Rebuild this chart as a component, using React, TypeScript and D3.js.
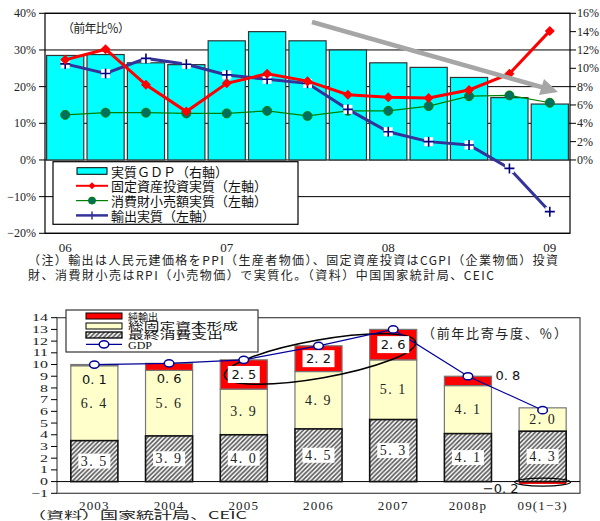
import React from 'react';
import * as d3 from 'd3';

// ---------- Top chart data ----------
const quarters = ["06Q1","06Q2","06Q3","06Q4","07Q1","07Q2","07Q3","07Q4","08Q1","08Q2","08Q3","08Q4","09Q1"];
const quarterTickLabels = ["06","07","08","09"];
const gdpReal = [11.4, 11.5, 10.6, 10.4, 13.0, 14.0, 13.0, 12.0, 10.6, 10.1, 9.0, 6.8, 6.1];
const fixedInvestment = [27.3, 30.2, 20.5, 13.2, 20.9, 23.5, 21.5, 17.8, 17.1, 16.9, 19.1, 23.5, 35.2];
const retailSales = [12.3, 12.9, 12.9, 12.7, 12.7, 13.4, 12.0, 13.4, 13.4, 14.7, 17.4, 17.6, 15.6];
const exportsReal = [26.2, 23.6, 27.7, 26.1, 23.2, 22.0, 20.9, 13.8, 7.7, 5.0, 4.1, -2.3, -14.1];
const leftTicks = [40, 30, 20, 10, 0, -10, -20];
const rightTicks = [16, 14, 12, 10, 8, 6, 4, 2, 0];
const topLegend = ["実質ＧＤＰ（右軸）", "固定資産投資実質（左軸）", "消費財小売額実質（左軸）", "輸出実質（左軸）"];
const topUnit = "（前年比％）";
const noteLines = [
  "（注）輸出は人民元建価格をPPI（生産者物価）、固定資産投資はCGPI（企業物価）投資",
  "財、消費財小売はRPI（小売物価）で実質化。（資料）中国国家統計局、CEIC",
];

// ---------- Bottom chart data ----------
const years = ["2003", "2004", "2005", "2006", "2007", "2008p", "09(1−3)"];
const consumption = [3.5, 3.9, 4.0, 4.5, 5.3, 4.1, 4.3];
const investment = [6.4, 5.6, 3.9, 4.9, 5.1, 4.1, 2.0];
const netExports = [0.1, 0.6, 2.5, 2.2, 2.6, 0.8, -0.2];
const gdpGrowth = [10.0, 10.1, 10.4, 11.6, 13.0, 9.0, 6.1];
const bottomTicks = [14, 13, 12, 11, 10, 9, 8, 7, 6, 5, 4, 3, 2, 1, 0, -1];
const bottomLegend = ["純輸出", "総固定資本形成", "最終消費支出", "GDP"];
const bottomUnit = "（前年比寄与度、％）";
const bottomSource = "（資料）国家統計局、CEIC";

const JP = '"Noto Sans CJK JP", sans-serif';
const SERIF = '"Liberation Serif", serif';
const SANS = '"DejaVu Sans", sans-serif';

const fmt = (v: number) => {
  const s = Math.abs(v).toFixed(1).replace('.', '. ');
  return (v < 0 ? '−' : '') + s;
};

function TopChart() {
  const x = d3.scaleBand<string>().domain(quarters).range([45, 570]).paddingInner(0.08).paddingOuter(0.04);
  const yL = d3.scaleLinear().domain([-20, 40]).range([233.3, 13.3]);
  const yR = d3.scaleLinear().domain([0, 16]).range([yL(0), yL(40)]);
  const cx = (q: string) => (x(q) as number) + x.bandwidth() / 2;
  const line = d3.line<number>().x((_, i) => cx(quarters[i])).y((d) => yL(d));
  const [x0, x1] = x.range();
  const tickQuarters = quarters.filter((q) => q.endsWith('Q1'));

  const diamond = (px: number, py: number, r = 5) => `M${px},${py - r}L${px + r},${py}L${px},${py + r}L${px - r},${py}Z`;
  const plus = (px: number, py: number, k: number) => (
    <g key={k}>
      <rect x={px - 4.5} y={py - 4.5} width={9} height={9} fill="#fff" />
      <path d={`M${px - 5},${py}H${px + 5}M${px},${py - 5}V${py + 5}`} stroke="#000080" strokeWidth={1.6} />
    </g>
  );

  return (
    <g>
      {leftTicks.map((t) => (
        <line key={t} x1={x0} x2={x1} y1={yL(t)} y2={yL(t)} stroke="#000" strokeWidth={1} />
      ))}
      {quarters.map((q, i) => (
        <rect key={q} x={x(q)} y={yR(gdpReal[i])} width={x.bandwidth()} height={yR(0) - yR(gdpReal[i])}
          fill="#00ffff" stroke="#333" strokeWidth={1.2} />
      ))}
      <rect x={x0} y={yL(40)} width={x1 - x0} height={yL(-20) - yL(40)} fill="none" stroke="#000" strokeWidth={1.2} />
      {leftTicks.map((t) => (
        <g key={t}>
          <line x1={x0 - 6} x2={x0} y1={yL(t)} y2={yL(t)} stroke="#000" />
          <text x={x0 - 9} y={yL(t)} textAnchor="end" dominantBaseline="central" fontFamily={SERIF} fontSize={12} fill="#222">
            {(t < 0 ? '−' + Math.abs(t) : t) + '%'}
          </text>
        </g>
      ))}
      {rightTicks.map((t) => (
        <g key={t}>
          <line x1={x1} x2={x1 + 6} y1={yR(t)} y2={yR(t)} stroke="#000" />
          <text x={x1 + 7} y={yR(t)} dominantBaseline="central" fontFamily={SERIF} fontSize={12} fill="#222">
            {t + '%'}
          </text>
        </g>
      ))}
      {tickQuarters.map((q, i) => (
        <text key={q} x={cx(q)} y={247} textAnchor="middle" dominantBaseline="central" fontFamily={SERIF} fontSize={13} fill="#222">
          {quarterTickLabels[i]}
        </text>
      ))}
      <path d={line(retailSales) || ''} fill="none" stroke="#008000" strokeWidth={1.2} />
      {retailSales.map((v, i) => (
        <circle key={i} cx={cx(quarters[i])} cy={yL(v)} r={4.5} fill="#006f5f" stroke="#008000" strokeWidth={1} />
      ))}
      <path d={line(exportsReal) || ''} fill="none" stroke="#333399" strokeWidth={3} />
      {exportsReal.map((v, i) => plus(cx(quarters[i]), yL(v), i))}
      <path d={line(fixedInvestment) || ''} fill="none" stroke="#ff0000" strokeWidth={3} />
      {fixedInvestment.map((v, i) => (
        <path key={i} d={diamond(cx(quarters[i]), yL(v))} fill="#ff0000" />
      ))}
      <line x1={312} y1={22} x2={543} y2={87.5} stroke="#a6a6a6" strokeWidth={4.5} />
      <path d="M558,92 L539,95 L544,79 Z" fill="#a6a6a6" />
      <text x={62} y={27} dominantBaseline="central" fontFamily={JP} fontSize={12} fill="#222" textLength={68}>{topUnit}</text>
      <rect x={53} y={161.7} width={245} height={62.6} fill="#fff" stroke="#000" strokeWidth={1.2} />
      {topLegend.map((s, i) => {
        const ly = 171 + i * 14.8;
        return (
          <g key={s}>
            {i === 0 && <rect x={77} y={ly - 3.3} width={30} height={6.6} fill="#00ffff" stroke="#000" />}
            {i === 1 && (<><line x1={76} x2={108} y1={ly} y2={ly} stroke="#ff0000" strokeWidth={2} /><path d={diamond(92, ly, 3.5)} fill="#ff0000" /></>)}
            {i === 2 && (<><line x1={76} x2={108} y1={ly} y2={ly} stroke="#008000" strokeWidth={1.2} /><circle cx={92} cy={ly} r={3.5} fill="#006f5f" stroke="#008000" /></>)}
            {i === 3 && (<><line x1={76} x2={108} y1={ly} y2={ly} stroke="#333399" strokeWidth={2.5} /><path d={`M92,${ly - 4}V${ly + 4}`} stroke="#333399" strokeWidth={1.5} /></>)}
            <text x={111} y={ly} dominantBaseline="central" fontFamily={JP} fontSize={13} fill="#111">{s}</text>
          </g>
        );
      })}
      <text x={28} y={259} dominantBaseline="central" fontFamily={JP} fontSize={12} fill="#222" textLength={530} lengthAdjust="spacing">{noteLines[0]}</text>
      <text x={28} y={274} dominantBaseline="central" fontFamily={JP} fontSize={12} fill="#222" textLength={466} lengthAdjust="spacing">{noteLines[1]}</text>
    </g>
  );
}

function BottomChart() {
  const x = d3.scaleBand<string>().domain(years).range([57, 580]).paddingInner(0.37).paddingOuter(0.185);
  const y = d3.scaleLinear().domain([-1, 14]).range([493.3, 317.7]);
  const bw = x.bandwidth();
  const cx = (c: string) => (x(c) as number) + bw / 2;
  const [x0, x1] = x.range();
  const gdpLine = d3.line<number>().x((_, i) => cx(years[i])).y((d) => y(d));

  return (
    <g>
      <defs>
        <pattern id="hatch" patternUnits="userSpaceOnUse" width={4.5} height={4.5}>
          <rect width={4.5} height={4.5} fill="#fff" />
          <path d="M-1,1 l2,-2 M0,4.5 l4.5,-4.5 M3.5,5.5 l2,-2" stroke="#555" strokeWidth={1.6} />
        </pattern>
      </defs>
      <rect x={x0} y={y(14)} width={x1 - x0} height={y(-1) - y(14)} fill="none" stroke="#444" strokeWidth={1.2} />
      <line x1={x0} x2={x1} y1={y(0)} y2={y(0)} stroke="#000" strokeWidth={1} />
      {bottomTicks.map((t) => (
        <g key={t}>
          <line x1={x0 - 6} x2={x0} y1={y(t)} y2={y(t)} stroke="#000" />
          <text transform={`translate(48,${y(t)}) scale(1.45,1)`} x={0} y={0} textAnchor="end" dominantBaseline="central" fontFamily={SERIF} fontSize={11} fill="#222">
            {t < 0 ? '−' + Math.abs(t) : t}
          </text>
        </g>
      ))}
      {years.map((c, i) => {
        const bx = x(c) as number;
        const c0 = consumption[i];
        const c1 = c0 + investment[i];
        const ne = netExports[i];
        const neTop = ne >= 0 ? c1 + ne : 0;
        const neBot = ne >= 0 ? c1 : ne;
        return (
          <g key={c}>
            <rect x={bx} y={y(c1)} width={bw} height={y(c0) - y(c1)} fill="#ffffcc" stroke="#777" strokeWidth={1.2} />
            <rect x={bx} y={y(neTop)} width={bw} height={y(neBot) - y(neTop)} fill="#ff0000" stroke={ne >= 0 ? '#777' : 'none'} strokeWidth={1.2} />
            <rect x={bx} y={y(c0)} width={bw} height={y(0) - y(c0)} fill="url(#hatch)" stroke="#111" strokeWidth={1.6} />
          </g>
        );
      })}
      <ellipse cx={320} cy={359} rx={97} ry={19} fill="none" stroke="#000" strokeWidth={1.5} transform="rotate(-10 320 359)" />
      <ellipse cx={cx(years[6])} cy={y(0) + 0.5} rx={28} ry={4} fill="none" stroke="#000" strokeWidth={1.2} />
      <path d={gdpLine(gdpGrowth) || ''} fill="none" stroke="#000099" strokeWidth={1.2} />
      {gdpGrowth.map((v, i) => (
        <ellipse key={i} cx={cx(years[i])} cy={y(v)} rx={4.8} ry={3.6} fill="#fff" stroke="#000099" strokeWidth={1.5} />
      ))}
      {years.map((c, i) => {
        const px = cx(c);
        const c0 = consumption[i];
        const c1 = c0 + investment[i];
        const ne = netExports[i];
        let neLabel: React.ReactNode = null;
        if (ne < 0) {
          neLabel = <text x={px - 42} y={y(0) + 7} textAnchor="middle" dominantBaseline="central" fontFamily={SANS} fontSize={13} fill="#111">{fmt(ne)}</text>;
        } else if (ne >= 1) {
          const ly = y(c1 + ne / 2);
          neLabel = (
            <g>
              <rect x={px - 16} y={ly - 8.5} width={32} height={17} fill="#fff" />
              <text x={px} y={ly} textAnchor="middle" dominantBaseline="central" fontFamily={SANS} fontSize={13} fill="#111">{fmt(ne)}</text>
            </g>
          );
        } else if (i < 2) {
          neLabel = <text x={px} y={y(c1 + ne) + 15} textAnchor="middle" dominantBaseline="central" fontFamily={SANS} fontSize={13} fill="#111">{fmt(ne)}</text>;
        } else {
          neLabel = <text x={px + bw / 2 + 4} y={y(c1 + ne) - 1} dominantBaseline="central" fontFamily={SANS} fontSize={13} fill="#111">{fmt(ne)}</text>;
        }
        const cy0 = y(c0 / 2);
        return (
          <g key={c}>
            <text x={px} y={y(c0 + investment[i] / 2)} textAnchor="middle" dominantBaseline="central" fontFamily={SERIF} fontSize={14} letterSpacing={1.5} fill="#222">{fmt(investment[i])}</text>
            <rect x={px - 16} y={cy0 - 7.5} width={32} height={15} fill="#fff" />
            <text x={px} y={cy0} textAnchor="middle" dominantBaseline="central" fontFamily={SERIF} fontSize={14} letterSpacing={1.5} fill="#222">{fmt(c0)}</text>
            {neLabel}
            <text x={px} y={505} textAnchor="middle" dominantBaseline="central" fontFamily={SERIF} fontSize={13} letterSpacing={1.2} fill="#222">{c}</text>
          </g>
        );
      })}
      <rect x={66} y={310} width={192} height={42} fill="#fff" stroke="#333" strokeWidth={1.2} />
      <rect x={86} y={313} width={36} height={6} fill="#ff0000" stroke="#000" />
      <rect x={86} y={323} width={36} height={6} fill="#ffffcc" stroke="#000" />
      <rect x={86} y={332} width={36} height={6} fill="url(#hatch)" stroke="#000" strokeWidth={1.3} />
      <line x1={86} x2={122} y1={344.3} y2={344.3} stroke="#000099" strokeWidth={1.2} />
      <ellipse cx={104} cy={344.3} rx={4.8} ry={3.6} fill="#fff" stroke="#000099" strokeWidth={1.5} />
      <text x={128} y={316} dominantBaseline="central" fontFamily={JP} fontSize={10} fill="#111" textLength={30} lengthAdjust="spacingAndGlyphs">{bottomLegend[0]}</text>
      <text x={128} y={325.5} dominantBaseline="central" fontFamily={JP} fontSize={10} fill="#111" textLength={110} lengthAdjust="spacingAndGlyphs">{bottomLegend[1]}</text>
      <text x={128} y={334.5} dominantBaseline="central" fontFamily={JP} fontSize={10} fill="#111" textLength={95} lengthAdjust="spacingAndGlyphs">{bottomLegend[2]}</text>
      <text x={128} y={345} dominantBaseline="central" fontFamily={SERIF} fontSize={11} fill="#111" textLength={24} lengthAdjust="spacingAndGlyphs">{bottomLegend[3]}</text>
      <text x={422} y={332} dominantBaseline="central" fontFamily={JP} fontSize={13} fill="#222" textLength={145}>{bottomUnit}</text>
      <text x={28} y={514.5} dominantBaseline="central" fontFamily={JP} fontSize={10.5} fill="#222" textLength={219} lengthAdjust="spacingAndGlyphs">{bottomSource}</text>
    </g>
  );
}

export default function App() {
  return (
    <svg width={600} height={521} viewBox="0 0 600 521" style={{ position: 'absolute', left: 0, top: 0, background: '#fff' }}>
      <rect width={600} height={521} fill="#fff" />
      <TopChart />
      <BottomChart />
    </svg>
  );
}
